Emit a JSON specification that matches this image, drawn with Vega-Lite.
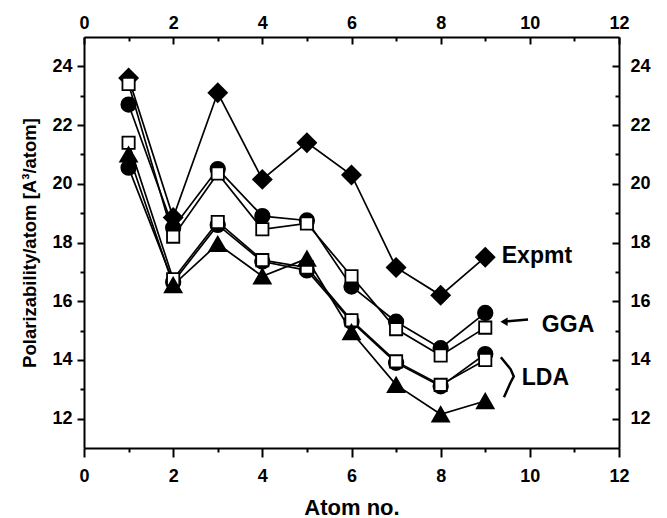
{
  "$schema": "https://vega.github.io/schema/vega-lite/v6.json",
  "width": 535,
  "height": 411,
  "autosize": {"type": "none"},
  "padding": {"left": 84, "top": 37, "right": 48, "bottom": 70},
  "background": "white",
  "config": {
    "view": {"stroke": null},
    "axis": {
      "labelFont": "Liberation Sans",
      "labelFontWeight": "bold",
      "labelFontSize": 18,
      "labelColor": "black",
      "titleFont": "Liberation Sans",
      "titleFontWeight": "bold",
      "titleColor": "black",
      "domainColor": "black",
      "domainWidth": 2,
      "tickColor": "black",
      "tickWidth": 2,
      "grid": false,
      "labelFlush": false,
      "labelOverlap": false
    }
  },
  "datasets": {
    "series": [
      {"series": "Expmt", "marker": "diamond", "atom": 1, "value": 23.6},
      {"series": "Expmt", "marker": "diamond", "atom": 2, "value": 18.85},
      {"series": "Expmt", "marker": "diamond", "atom": 3, "value": 23.1},
      {"series": "Expmt", "marker": "diamond", "atom": 4, "value": 20.15},
      {"series": "Expmt", "marker": "diamond", "atom": 5, "value": 21.4},
      {"series": "Expmt", "marker": "diamond", "atom": 6, "value": 20.3},
      {"series": "Expmt", "marker": "diamond", "atom": 7, "value": 17.15},
      {"series": "Expmt", "marker": "diamond", "atom": 8, "value": 16.2},
      {"series": "Expmt", "marker": "diamond", "atom": 9, "value": 17.5},
      {"series": "GGA circle", "marker": "circle", "atom": 1, "value": 22.7},
      {"series": "GGA circle", "marker": "circle", "atom": 2, "value": 18.5},
      {"series": "GGA circle", "marker": "circle", "atom": 3, "value": 20.5},
      {"series": "GGA circle", "marker": "circle", "atom": 4, "value": 18.9},
      {"series": "GGA circle", "marker": "circle", "atom": 5, "value": 18.75},
      {"series": "GGA circle", "marker": "circle", "atom": 6, "value": 16.5},
      {"series": "GGA circle", "marker": "circle", "atom": 7, "value": 15.3},
      {"series": "GGA circle", "marker": "circle", "atom": 8, "value": 14.4},
      {"series": "GGA circle", "marker": "circle", "atom": 9, "value": 15.6},
      {"series": "LDA circle", "marker": "circle", "atom": 1, "value": 20.55},
      {"series": "LDA circle", "marker": "circle", "atom": 2, "value": 16.65},
      {"series": "LDA circle", "marker": "circle", "atom": 3, "value": 18.6},
      {"series": "LDA circle", "marker": "circle", "atom": 4, "value": 17.35},
      {"series": "LDA circle", "marker": "circle", "atom": 5, "value": 17.05},
      {"series": "LDA circle", "marker": "circle", "atom": 6, "value": 15.3},
      {"series": "LDA circle", "marker": "circle", "atom": 7, "value": 13.9},
      {"series": "LDA circle", "marker": "circle", "atom": 8, "value": 13.1},
      {"series": "LDA circle", "marker": "circle", "atom": 9, "value": 14.2},
      {"series": "GGA square", "marker": "square", "atom": 1, "value": 23.4},
      {"series": "GGA square", "marker": "square", "atom": 2, "value": 18.2},
      {"series": "GGA square", "marker": "square", "atom": 3, "value": 20.35},
      {"series": "GGA square", "marker": "square", "atom": 4, "value": 18.45},
      {"series": "GGA square", "marker": "square", "atom": 5, "value": 18.65},
      {"series": "GGA square", "marker": "square", "atom": 6, "value": 16.85},
      {"series": "GGA square", "marker": "square", "atom": 7, "value": 15.05},
      {"series": "GGA square", "marker": "square", "atom": 8, "value": 14.15},
      {"series": "GGA square", "marker": "square", "atom": 9, "value": 15.1},
      {"series": "LDA square", "marker": "square", "atom": 1, "value": 21.4},
      {"series": "LDA square", "marker": "square", "atom": 2, "value": 16.75},
      {"series": "LDA square", "marker": "square", "atom": 3, "value": 18.7},
      {"series": "LDA square", "marker": "square", "atom": 4, "value": 17.4},
      {"series": "LDA square", "marker": "square", "atom": 5, "value": 17.15},
      {"series": "LDA square", "marker": "square", "atom": 6, "value": 15.35},
      {"series": "LDA square", "marker": "square", "atom": 7, "value": 13.95},
      {"series": "LDA square", "marker": "square", "atom": 8, "value": 13.15},
      {"series": "LDA square", "marker": "square", "atom": 9, "value": 14.0},
      {"series": "LDA triangle", "marker": "triangle", "atom": 1, "value": 21.0},
      {"series": "LDA triangle", "marker": "triangle", "atom": 2, "value": 16.55},
      {"series": "LDA triangle", "marker": "triangle", "atom": 3, "value": 17.95},
      {"series": "LDA triangle", "marker": "triangle", "atom": 4, "value": 16.85},
      {"series": "LDA triangle", "marker": "triangle", "atom": 5, "value": 17.45},
      {"series": "LDA triangle", "marker": "triangle", "atom": 6, "value": 14.95},
      {"series": "LDA triangle", "marker": "triangle", "atom": 7, "value": 13.15},
      {"series": "LDA triangle", "marker": "triangle", "atom": 8, "value": 12.15},
      {"series": "LDA triangle", "marker": "triangle", "atom": 9, "value": 12.6}
    ],
    "labels": [
      {"label": "Expmt", "x": 9.37, "y": 17.55},
      {"label": "GGA", "x": 10.27, "y": 15.2},
      {"label": "LDA", "x": 9.82, "y": 13.38}
    ],
    "guides": [
      {"part": "arrow", "seq": 1, "x": 9.4, "y": 15.3},
      {"part": "arrow", "seq": 2, "x": 9.96, "y": 15.38},
      {"part": "brace", "seq": 1, "x": 9.35, "y": 14.09},
      {"part": "brace", "seq": 2, "x": 9.57, "y": 13.68},
      {"part": "brace", "seq": 3, "x": 9.64, "y": 13.44},
      {"part": "brace", "seq": 4, "x": 9.57, "y": 13.24},
      {"part": "brace", "seq": 5, "x": 9.42, "y": 12.73}
    ],
    "heads": [
      {"x": 9.42, "y": 15.3}
    ]
  },
  "layer": [
    {
      "data": {"name": "series"},
      "mark": {"type": "line", "color": "black", "strokeWidth": 1.7},
      "encoding": {
        "x": {
          "field": "atom", "type": "quantitative",
          "scale": {"domain": [0, 12], "nice": false, "zero": false},
          "axis": {"orient": "bottom", "values": [0, 2, 4, 6, 8, 10, 12], "tickSize": 9, "labelPadding": 10, "title": "Atom no.", "titleFontSize": 22, "titlePadding": 12, "format": "d"}
        },
        "y": {
          "field": "value", "type": "quantitative",
          "scale": {"domain": [11, 25], "nice": false, "zero": false},
          "axis": {"orient": "left", "values": [12, 14, 16, 18, 20, 22, 24], "tickSize": 7, "labelPadding": 5, "title": "Polarizability/atom [A³/atom]", "titleFontSize": 18.5, "titlePadding": 12}
        },
        "detail": {"field": "series"}
      }
    },
    {
      "data": {"name": "guides"},
      "mark": {"type": "line", "color": "black", "strokeWidth": 2.5},
      "encoding": {
        "x": {
          "field": "x", "type": "quantitative",
          "axis": {"orient": "top", "values": [1, 3, 5, 7, 9, 11], "tickSize": -4, "labels": false, "domain": false, "title": null}
        },
        "y": {
          "field": "y", "type": "quantitative",
          "axis": {"orient": "right", "values": [13, 15, 17, 19, 21, 23], "tickSize": -4, "labels": false, "domain": false, "title": null}
        },
        "detail": {"field": "part"},
        "order": {"field": "seq", "type": "quantitative"}
      }
    },
    {
      "data": {"name": "heads"},
      "mark": {"type": "point", "shape": "triangle-left", "filled": true, "color": "black", "size": 70, "opacity": 1},
      "encoding": {
        "x": {"field": "x", "type": "quantitative", "axis": null},
        "y": {"field": "y", "type": "quantitative", "axis": null}
      }
    },
    {
      "data": {"name": "series"},
      "mark": {"type": "point", "filled": true, "opacity": 1, "stroke": "black", "strokeWidth": 1.8},
      "encoding": {
        "x": {
          "field": "atom", "type": "quantitative",
          "axis": {"orient": "top", "values": [0, 2, 4, 6, 8, 10, 12], "tickSize": -7, "labelPadding": 12, "title": null, "format": "d"}
        },
        "y": {
          "field": "value", "type": "quantitative",
          "axis": {"orient": "right", "values": [12, 14, 16, 18, 20, 22, 24], "tickSize": -7, "labelPadding": 18, "title": null}
        },
        "shape": {"field": "marker", "type": "nominal", "scale": {"domain": ["circle", "square", "triangle", "diamond"], "range": ["circle", "square", "triangle-up", "diamond"]}, "legend": null},
        "fill": {"field": "marker", "type": "nominal", "scale": {"domain": ["circle", "square", "triangle", "diamond"], "range": ["black", "white", "black", "black"]}, "legend": null},
        "size": {"field": "marker", "type": "nominal", "scale": {"type": "ordinal", "domain": ["circle", "square", "triangle", "diamond"], "range": [210, 150, 280, 340]}, "legend": null}
      }
    },
    {
      "data": {"name": "labels"},
      "mark": {"type": "text", "align": "left", "baseline": "middle", "font": "Liberation Sans", "fontWeight": "bold", "fontSize": 23, "color": "black"},
      "encoding": {
        "x": {
          "field": "x", "type": "quantitative",
          "axis": {"orient": "bottom", "values": [1, 3, 5, 7, 9, 11], "tickSize": 4, "labels": false, "domain": false, "title": null}
        },
        "y": {
          "field": "y", "type": "quantitative",
          "axis": {"orient": "left", "values": [13, 15, 17, 19, 21, 23], "tickSize": 4, "labels": false, "domain": false, "title": null}
        },
        "text": {"field": "label"}
      }
    }
  ],
  "resolve": {"axis": {"x": "independent", "y": "independent"}}
}
